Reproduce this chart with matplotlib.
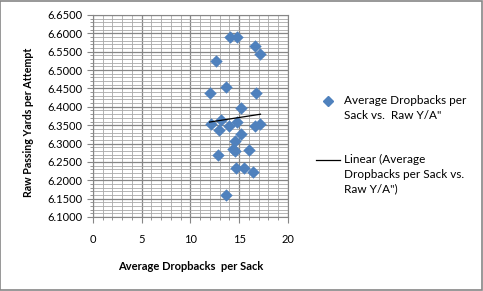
import numpy as np
import matplotlib.pyplot as plt
from matplotlib.patches import Rectangle
from matplotlib.lines import Line2D

plt.rcParams['font.family'] = ['Lato', 'DejaVu Sans']

# 每个球队: 平均多少次回撤出现一次擒杀 vs. 每次传球码数
dropbacks = [14.06, 14.81, 16.67, 17.18, 12.62, 13.68, 11.96, 16.70, 15.23,
             12.06, 13.13, 12.89, 13.92, 14.78, 17.11, 16.67, 15.23, 14.61,
             14.33, 14.54, 16.02, 12.82, 14.71, 15.54, 16.39, 13.68]
raw_ya = [6.589, 6.591, 6.566, 6.545, 6.526, 6.455, 6.438, 6.437, 6.397,
          6.354, 6.365, 6.336, 6.349, 6.359, 6.354, 6.347, 6.326, 6.307,
          6.285, 6.281, 6.282, 6.270, 6.233, 6.234, 6.223, 6.159]

x = np.array(dropbacks); y = np.array(raw_ya)
k, b = np.polyfit(x, y, 1)          # 线性趋势线
xs = np.array([x.min(), x.max()])

fig = plt.figure(figsize=(4.83, 2.91), dpi=100)
fig.patches.append(Rectangle((0.001, 0.002), 0.997, 0.995, transform=fig.transFigure,
                             fill=False, edgecolor='#868686', lw=1.2))
ax = fig.add_axes([0.1925, 0.2543, 0.4037, 0.6942])

ax.scatter(x, y, marker='D', s=40, color='#4F81BD', zorder=3, linewidths=0)
ax.plot(xs, k * xs + b, color='black', lw=0.9, zorder=4)

ax.set_xlim(0, 20); ax.set_ylim(6.10, 6.65)
ax.set_xticks(np.arange(0, 21, 5))
ax.set_yticks(np.arange(6.10, 6.651, 0.05))
ax.set_xticks(np.arange(0, 21, 1), minor=True)
ax.set_yticks(np.arange(6.10, 6.651, 0.01), minor=True)
ax.set_yticklabels([f'{v:.4f}' for v in np.arange(6.10, 6.651, 0.05)])
ax.grid(which='major', color='#868686', lw=0.9)
ax.grid(which='minor', color='#a8a8a8', lw=0.6)
ax.set_axisbelow(True)
for s in ax.spines.values():
    s.set_color('#868686')
ax.tick_params(which='both', colors='#868686', labelcolor='black', labelsize=8)
ax.tick_params(which='major', length=4)
ax.tick_params(which='minor', length=2)
ax.tick_params(axis='x', pad=8)

ax.set_xlabel('Average Dropbacks  per Sack', fontsize=8, fontweight='bold', labelpad=12)
ax.set_ylabel('Raw Passing Yards per Attempt', fontsize=7.7, fontweight='bold')
ax.yaxis.set_label_coords(-0.30, 0.47)

# 图例
fig.lines.append(Line2D([328 / 483], [1 - 101 / 291], marker='D', ms=5.5, color='#4F81BD',
                        ls='none', transform=fig.transFigure))
fig.text(344 / 483, 1 - 108 / 291, 'Average Dropbacks per\nSack vs.  Raw Y/A"', fontsize=8.5,
         va='center', linespacing=1.4)
fig.lines.append(Line2D([316 / 483, 340 / 483], [1 - 160 / 291] * 2, color='black', lw=0.9,
                        transform=fig.transFigure))
fig.text(344 / 483, 1 - 174 / 291, 'Linear (Average\nDropbacks per Sack vs.\nRaw Y/A")',
         fontsize=8.5, va='center', linespacing=1.4)

fig.savefig('out.png', dpi=100)
